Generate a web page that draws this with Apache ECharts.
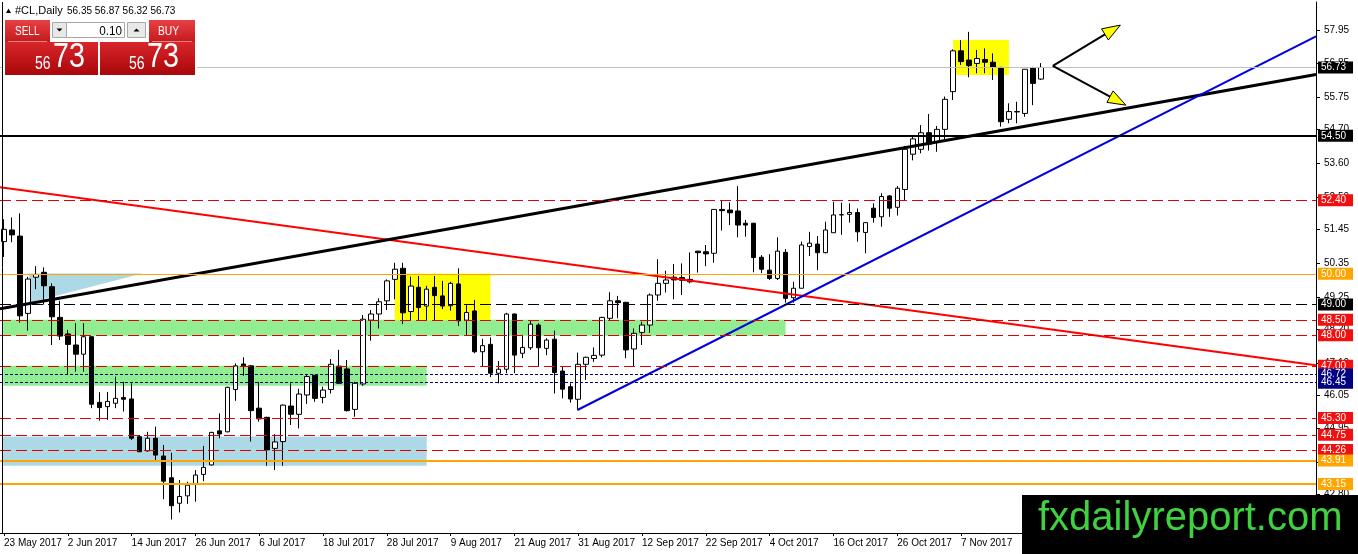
<!DOCTYPE html>
<html><head><meta charset="utf-8">
<script src="https://cdn.jsdelivr.net/npm/echarts@6/dist/echarts.min.js"></script>
<style>html,body{margin:0;padding:0;background:#fff;}#chart{width:1358px;height:554px;}</style>
</head><body><div id="chart"></div>
<script>
// ---------- data ----------
const dateTicks = ['23 May 2017','2 Jun 2017','14 Jun 2017','26 Jun 2017','6 Jul 2017','18 Jul 2017','28 Jul 2017','9 Aug 2017','21 Aug 2017','31 Aug 2017','12 Sep 2017','22 Sep 2017','4 Oct 2017','16 Oct 2017','26 Oct 2017','7 Nov 2017'];
const priceTicks = [57.95,56.85,55.75,54.70,53.60,52.50,51.45,50.35,49.25,48.20,47.10,46.05,44.95,43.85,42.80];
const opens  = [51.05,51.43,51.23,48.71,49.89,50.05,49.58,48.58,48.04,47.68,47.38,47.95,45.81,45.67,45.78,45.97,45.92,44.69,44.23,44.64,44.06,43.35,42.52,42.76,43.15,43.46,43.77,44.88,44.85,46.23,47.06,47.00,45.62,45.32,44.31,44.53,45.69,45.42,46.05,46.69,45.97,46.23,46.99,46.90,45.58,46.41,48.49,48.69,49.12,49.82,50.18,48.77,49.56,48.95,49.56,49.28,48.96,49.67,48.49,48.79,47.46,47.70,46.76,46.89,48.69,47.41,47.59,48.33,47.57,47.87,46.83,46.32,45.91,47.05,47.24,47.35,48.55,49.12,49.07,47.55,48.09,48.33,49.31,49.69,49.89,49.88,49.82,50.74,50.72,50.67,52.10,52.08,52.05,51.65,51.65,50.54,50.12,49.85,50.70,49.22,49.53,50.89,50.97,50.69,51.34,51.92,51.94,52.00,51.35,52.14,51.86,52.54,52.17,52.75,53.90,54.06,54.60,54.31,54.71,55.94,57.27,56.97,56.86,56.99,56.90,56.73,55.04,55.29,55.23,56.70,56.35];
const closes = [51.45,51.27,48.63,49.83,49.98,49.61,48.60,47.97,47.70,47.38,47.95,45.75,45.64,45.84,45.94,45.91,44.64,44.20,44.64,44.09,43.24,42.44,42.74,43.11,43.44,43.69,44.83,44.78,46.30,47.00,47.00,45.54,45.27,44.26,44.52,45.72,45.42,46.08,46.65,45.94,46.21,47.05,46.43,45.54,46.43,48.52,48.69,49.09,49.77,50.15,48.73,49.60,48.90,49.50,49.29,48.95,49.69,48.47,48.74,47.46,47.66,46.76,46.89,48.69,47.35,47.60,48.36,47.59,47.84,46.78,46.24,45.92,47.05,47.28,47.34,48.58,49.12,49.06,47.52,48.06,48.33,49.31,49.69,49.80,49.80,49.79,49.74,50.69,50.65,52.10,52.06,51.99,51.59,51.59,50.53,50.15,49.85,50.74,49.20,49.53,50.94,51.00,50.69,51.43,51.92,51.93,52.00,51.37,51.67,51.84,52.52,52.14,52.79,54.06,54.40,54.60,54.23,54.71,55.69,57.27,56.92,56.79,57.02,56.90,56.73,54.96,55.29,55.28,56.67,56.21,56.73];
const lows   = [50.55,51.03,48.41,48.15,49.50,49.00,47.68,47.84,46.70,46.81,46.81,45.62,45.21,45.24,45.62,45.51,44.58,44.20,44.20,43.93,42.65,41.99,42.22,42.50,42.57,43.24,43.75,44.64,44.83,45.86,46.68,44.53,45.18,43.74,43.60,43.74,45.07,44.96,45.76,45.83,45.78,46.10,46.43,45.51,45.34,46.35,47.82,48.22,48.82,49.17,48.36,48.47,48.49,48.47,48.47,48.85,48.80,48.30,47.98,47.41,46.97,46.63,46.43,46.76,46.76,47.25,47.52,46.99,47.35,46.10,45.94,45.80,45.56,46.54,47.13,47.28,48.49,48.55,47.25,46.99,47.68,48.08,49.12,49.39,49.17,49.31,49.69,50.04,50.25,50.36,51.41,51.59,51.19,51.21,50.05,50.02,49.80,49.80,49.06,49.06,49.53,50.58,50.12,50.67,51.34,51.27,51.67,51.05,50.67,51.67,51.54,51.86,51.90,52.40,53.70,53.93,54.02,53.98,54.36,55.67,56.81,56.41,56.54,56.54,56.32,54.80,54.91,54.91,55.12,55.50,56.32];
const highs  = [51.78,51.84,51.97,49.90,50.25,50.21,49.69,49.12,48.17,48.39,48.39,47.96,46.14,46.15,46.65,46.48,46.43,44.74,44.85,45.02,44.42,44.17,43.28,43.22,43.60,44.39,44.85,45.45,46.32,47.08,47.28,47.03,46.48,45.34,44.77,45.74,46.43,46.25,46.70,46.70,46.32,47.22,47.52,47.19,46.48,48.66,48.82,49.20,49.82,50.36,50.36,49.91,49.93,49.61,49.93,49.77,49.74,50.18,48.98,49.15,47.88,47.93,47.16,48.73,48.71,48.01,48.47,48.39,47.90,48.15,46.99,46.43,47.43,47.30,47.60,48.60,49.40,49.28,49.09,48.22,48.44,49.36,50.48,50.10,50.32,50.34,50.70,50.75,50.94,52.10,52.41,52.33,52.86,51.76,51.66,50.61,50.64,51.19,50.81,49.74,51.05,51.37,51.23,51.70,52.35,52.32,52.30,52.13,51.67,52.30,52.63,52.57,52.86,54.17,54.50,54.85,55.21,54.82,55.78,57.32,57.62,57.89,57.30,57.35,57.19,56.75,55.56,55.61,56.67,56.75,56.87];
const bidLevel      = [56.73];
const blackLevels   = [54.50];
const blackDashed   = [49.00];
const redDashed     = [52.40,48.50,48.00,47.00,45.30,44.75,44.26];
const orangeThin    = [50.00];
const orangeThick   = [43.91,43.15];
const navyDotted    = [46.72,46.45];
const greenZones    = [[-0.1,98,48.50,47.98],[-0.1,53,47.00,46.35]];
const blueZones     = [[-0.1,53,44.70,43.74]];
const yellowZones   = [[49,61,50.00,48.49],[119,126,57.62,56.48]];
const blueTriangle  = [3.16,50.01,17.34,50.01,3.16,49.06];
const redTrend      = [[-0.5,52.82],[164.5,47.02]];
const blackTrend    = [[-0.5,48.86],[164.5,56.50]];
const blueTrend     = [[71.9,45.56],[164.5,57.74]];
const arrows        = [[131.5,56.78,139.97,58.11],[131.5,56.78,140.66,55.50]];
const symbolTitle = '#CL,Daily';
const quoteText = '56.35 56.87 56.32 56.73';
const bidBig = ['56','73'];
const lotText = '0.10';
const watermark = 'fxdailyreport.com';
const slotCount = 165;

// ---------- build ----------
const FONT = '"Liberation Sans", Arial, sans-serif';
const categories = Array.from({length: slotCount}, (_, i) => String(i));
const candles = opens.map((o, i) => [o, closes[i], lows[i], highs[i]]);

function hl(v, color, width, type, box) {
  return {
    yAxis: v,
    lineStyle: {color: color, width: width, type: type},
    label: {show: true, position: 'end', distance: 2, formatter: v.toFixed(2),
      backgroundColor: box, color: '#ffffff', fontSize: 10, fontFamily: FONT,
      padding: [1, 7, 0, 3], lineHeight: 11}
  };
}
const levelLines = [].concat(
  bidLevel.map(v => hl(v, '#c0c0c0', 1, 'solid', '#000000')),
  blackLevels.map(v => hl(v, '#000000', 2, 'solid', '#000000')),
  blackDashed.map(v => hl(v, '#000000', 1, [11, 5], '#000000')),
  redDashed.map(v => hl(v, '#e00000', 1, [11, 5], '#f01010')),
  orangeThin.map(v => hl(v, '#ffa500', 1, 'solid', '#ffa500')),
  orangeThick.map(v => hl(v, '#ffa500', 2, 'solid', '#ffa500')),
  navyDotted.map(v => hl(v, '#000080', 1, [3, 2], '#000080'))
);

function rectRender(color) {
  return function (params, api) {
    const p0 = api.coord([api.value(0), api.value(2)]);
    const p1 = api.coord([api.value(1), api.value(3)]);
    return {type: 'rect', shape: {x: p0[0], y: p0[1], width: p1[0] - p0[0], height: p1[1] - p0[1]},
      style: {fill: color}};
  };
}
function zoneSeries(data, color) {
  return {type: 'custom', xAxisIndex: 1, yAxisIndex: 0, z: 1, silent: true, clip: false,
    data: data, renderItem: rectRender(color), animation: false};
}
function trendSeries(data, color, width) {
  return {type: 'line', xAxisIndex: 1, yAxisIndex: 0, z: 4, silent: true, symbol: 'none',
    data: data, lineStyle: {color: color, width: width}, animation: false};
}

const redGradA = {type: 'linear', x: 0, y: 0, x2: 0, y2: 1, colorStops: [{offset: 0, color: '#e84044'}, {offset: 1, color: '#c41a1e'}]};
const redGradB = {type: 'linear', x: 0, y: 0, x2: 0, y2: 1, colorStops: [{offset: 0, color: '#d8262a'}, {offset: 1, color: '#a9070b'}]};

const chart = echarts.init(document.getElementById('chart'), null, {renderer: 'canvas'});
chart.setOption({
  animation: false,
  backgroundColor: '#ffffff',
  grid: {left: -1, right: 42, top: 2, bottom: 21, containLabel: false},
  xAxis: [
    {type: 'category', data: categories, boundaryGap: true,
      axisLine: {show: true, onZero: false, lineStyle: {color: '#000', width: 1}},
      axisTick: {show: true, interval: 7, alignWithLabel: true, length: 3, lineStyle: {color: '#000'}},
      axisLabel: {interval: 7, align: 'left', margin: 5, color: '#000', fontSize: 10, fontFamily: FONT,
        formatter: function (v, i) { return (i % 8 === 0 && dateTicks[i / 8]) ? dateTicks[i / 8] : ''; }},
      splitLine: {show: false}},
    {type: 'value', min: -0.5, max: slotCount - 0.5, show: false}
  ],
  yAxis: {type: 'value', position: 'right', min: 41.55, max: 58.863,
    axisLine: {show: true, onZero: false, lineStyle: {color: '#000', width: 1}},
    axisTick: {show: true, length: 4, customValues: priceTicks, lineStyle: {color: '#000'}},
    axisLabel: {customValues: priceTicks, formatter: v => v.toFixed(2), color: '#000', fontSize: 10, fontFamily: FONT, margin: 8},
    splitLine: {show: false}},
  series: [
    zoneSeries(greenZones, '#90ee90'),
    zoneSeries(blueZones, '#add8e6'),
    zoneSeries(yellowZones, '#ffff00'),
    {type: 'custom', xAxisIndex: 1, yAxisIndex: 0, z: 1, silent: true, clip: false, animation: false,
      data: [blueTriangle],
      renderItem: function (params, api) {
        const pts = [0, 2, 4].map(k => api.coord([api.value(k), api.value(k + 1)]));
        return {type: 'polygon', shape: {points: pts}, style: {fill: '#add8e6'}};
      }},
    {type: 'candlestick', xAxisIndex: 0, yAxisIndex: 0, z: 2, data: candles, barWidth: 5, silent: true,
      itemStyle: {color: '#ffffff', color0: '#000000', borderColor: '#000000', borderColor0: '#000000', borderWidth: 1},
      markLine: {silent: true, symbol: ['none', 'none'], animation: false, precision: 2, data: levelLines}},
    trendSeries(redTrend, '#ff0000', 2),
    trendSeries(blackTrend, '#000000', 3),
    trendSeries(blueTrend, '#0000dd', 2),
    {type: 'custom', xAxisIndex: 1, yAxisIndex: 0, z: 5, silent: true, clip: false, animation: false,
      data: arrows,
      renderItem: function (params, api) {
        const a = api.coord([api.value(0), api.value(1)]);
        const b = api.coord([api.value(2), api.value(3)]);
        const dx = b[0] - a[0], dy = b[1] - a[1], len = Math.hypot(dx, dy);
        const ux = dx / len, uy = dy / len, L = 18, W = 6.5;
        const bx = b[0] - ux * L, by = b[1] - uy * L;
        return {type: 'group', children: [
          {type: 'line', shape: {x1: a[0], y1: a[1], x2: bx, y2: by}, style: {stroke: '#000', lineWidth: 2}},
          {type: 'polygon', shape: {points: [[b[0], b[1]], [bx - uy * W, by + ux * W], [bx + uy * W, by - ux * W]]},
            style: {fill: '#ffff00', stroke: '#000', lineWidth: 1}}
        ]};
      }}
  ],
  graphic: [
    {type: 'line', shape: {x1: 2.5, y1: 2, x2: 2.5, y2: 533}, style: {stroke: '#000', lineWidth: 1}, z: 10},
    // header
    {type: 'polygon', shape: {points: [[6, 13], [11, 13], [8.5, 8.5]]}, style: {fill: '#000'}, z: 10},
    {type: 'text', x: 15, y: 11, style: {text: symbolTitle, fontSize: 11, fontFamily: FONT, fill: '#000', verticalAlign: 'middle'}, z: 10},
    {type: 'text', x: 67, y: 11, style: {text: quoteText, fontSize: 10, fontFamily: FONT, fill: '#000', verticalAlign: 'middle'}, z: 10},
    // one-click trading panel
    {type: 'rect', shape: {x: 3, y: 18, width: 194, height: 59}, style: {fill: '#ffffff'}, z: 10},
    {type: 'rect', shape: {x: 5, y: 20, width: 45, height: 22}, style: {fill: redGradA}, z: 11},
    {type: 'rect', shape: {x: 149, y: 20, width: 46, height: 22}, style: {fill: redGradA}, z: 11},
    {type: 'rect', shape: {x: 5, y: 42, width: 93, height: 33}, style: {fill: redGradB}, z: 11},
    {type: 'rect', shape: {x: 100, y: 42, width: 95, height: 33}, style: {fill: redGradB}, z: 11},
    {type: 'line', shape: {x1: 8, y1: 41.5, x2: 47, y2: 41.5}, style: {stroke: 'rgba(255,200,200,0.6)', lineWidth: 1}, z: 12},
    {type: 'line', shape: {x1: 152, y1: 41.5, x2: 192, y2: 41.5}, style: {stroke: 'rgba(255,200,200,0.6)', lineWidth: 1}, z: 12},
    {type: 'rect', shape: {x: 52.5, y: 22.5, width: 14, height: 15}, style: {fill: '#e8e8e8', stroke: '#a8a8a8'}, z: 11},
    {type: 'polygon', shape: {points: [[56.5, 28.5], [62.5, 28.5], [59.5, 31.5]]}, style: {fill: '#000'}, z: 12},
    {type: 'rect', shape: {x: 66.5, y: 22.5, width: 58, height: 15}, style: {fill: '#ffffff', stroke: '#a8a8a8'}, z: 11},
    {type: 'text', x: 122, y: 31, scaleX: 0.9, style: {text: lotText, fontSize: 13, fontFamily: FONT, fill: '#000', align: 'right', verticalAlign: 'middle'}, z: 12},
    {type: 'rect', shape: {x: 127.5, y: 22.5, width: 18, height: 15}, style: {fill: '#e8e8e8', stroke: '#a8a8a8'}, z: 11},
    {type: 'polygon', shape: {points: [[133.5, 31.5], [139.5, 31.5], [136.5, 28.5]]}, style: {fill: '#000'}, z: 12},
    {type: 'text', x: 15, y: 31.5, scaleX: 0.8, style: {text: 'SELL', fontSize: 12.5, fontFamily: FONT, fill: '#fff', verticalAlign: 'middle'}, z: 12},
    {type: 'text', x: 158, y: 31.5, scaleX: 0.82, style: {text: 'BUY', fontSize: 12.5, fontFamily: FONT, fill: '#fff', verticalAlign: 'middle'}, z: 12},
    {type: 'text', x: 35, y: 64, scaleX: 0.78, style: {text: bidBig[0], fontSize: 18, fontFamily: FONT, fill: '#fff', verticalAlign: 'middle'}, z: 12},
    {type: 'text', x: 53, y: 57, scaleX: 0.82, style: {text: bidBig[1], fontSize: 35, fontFamily: FONT, fill: '#fff', verticalAlign: 'middle'}, z: 12},
    {type: 'text', x: 129, y: 64, scaleX: 0.78, style: {text: bidBig[0], fontSize: 18, fontFamily: FONT, fill: '#fff', verticalAlign: 'middle'}, z: 12},
    {type: 'text', x: 147, y: 57, scaleX: 0.82, style: {text: bidBig[1], fontSize: 35, fontFamily: FONT, fill: '#fff', verticalAlign: 'middle'}, z: 12},
    // watermark
    {type: 'rect', shape: {x: 1022, y: 495, width: 336, height: 59}, style: {fill: '#000'}, z: 20},
    {type: 'text', x: 1038, y: 519, style: {text: watermark, fontSize: 40, fontFamily: FONT, fill: '#3fd23f', verticalAlign: 'middle'}, z: 21}
  ]
});
</script>
</body></html>
